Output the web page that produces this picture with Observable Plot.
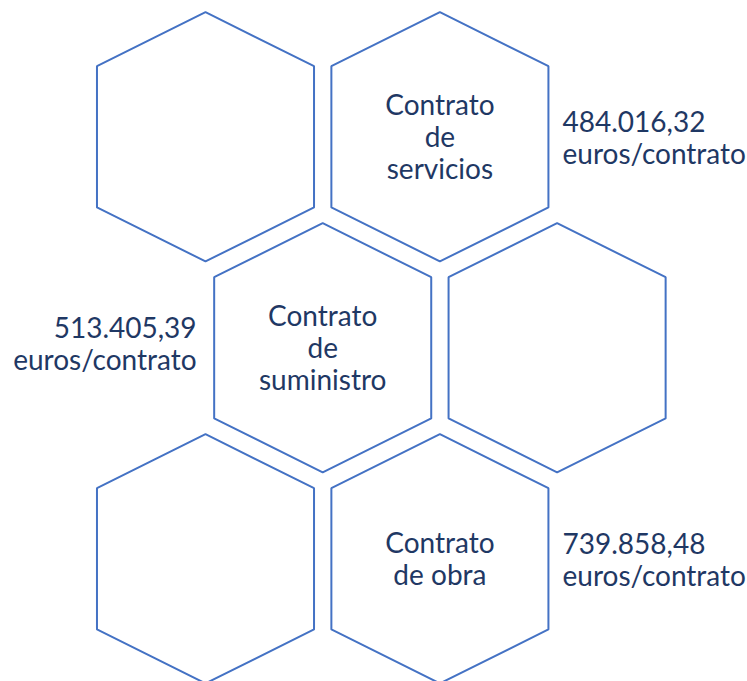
<!DOCTYPE html>
<html>
<head>
<meta charset="utf-8">
<script src="https://cdn.jsdelivr.net/npm/d3@7"></script>
<script src="https://cdn.jsdelivr.net/npm/@observablehq/plot@0.6"></script>
<style>
  html, body { margin: 0; padding: 0; background: #ffffff; }
  #chart svg { display: block; }
</style>
</head>
<body>
<div id="chart"></div>
<script>
// Honeycomb grid: column in half-steps, row index
const hexCols = [0, 2, 1, 3, 0, 2];
const hexRows = [0, 0, 1, 1, 2, 2];

// Contract types (placed in hexagons) and their average amounts
const contractTypes = ["Contrato\nde\nservicios", "Contrato\nde\nsuministro", "Contrato\nde obra"];
const typeCols = [2, 1, 2];
const typeRows = [0, 1, 2];
const typeValues = ["484.016,32", "513.405,39", "739.858,48"];
const valueUnit = "euros/contrato";
const valueSide = ["right", "left", "right"];

// hexagon outline in grid units (pointy top)
const hw = 0.926, hTop = 0.5905, hShoulder = 0.3346;
const outline = [[0, -hTop], [hw, -hShoulder], [hw, hShoulder], [0, hTop], [-hw, hShoulder], [-hw, -hShoulder], [0, -hTop]];

const hexPts = [];
hexCols.forEach((c, i) => {
  outline.forEach(([dx, dy]) => hexPts.push({id: i, x: c + dx, y: hexRows[i] + dy}));
});

const names = contractTypes.map((t, i) => ({label: t, x: typeCols[i], y: typeRows[i]}));
const values = typeValues.map((v, i) => ({
  label: v + "\n" + valueUnit,
  x: typeCols[i] + (valueSide[i] === "right" ? hw + 0.12 : -hw - 0.15),
  y: typeRows[i] + (valueSide[i] === "right" ? 0.005 : -0.018),
  anchor: valueSide[i] === "right" ? "start" : "end"
}));

const ink = "#1f3864";
const font = "Lato, 'Open Sans', sans-serif";

const chart = Plot.plot({
  width: 747,
  height: 681,
  margin: 0,
  x: {domain: [0, 3], range: [205, 556.6], axis: null},
  y: {domain: [0, 2], range: [136.3, 558.3], axis: null},
  style: {background: "#ffffff", fontFamily: font},
  marks: [
    Plot.line(hexPts, {x: "x", y: "y", z: "id", stroke: "#4472c4", strokeWidth: 2, curve: "linear", strokeLinejoin: "miter"}),
    Plot.text(names, {x: "x", y: "y", text: "label", fontSize: 28, lineHeight: 1.15, fill: ink, textAnchor: "middle", fontFamily: font}),
    Plot.text(values.filter(d => d.anchor === "start"), {x: "x", y: "y", text: "label", fontSize: 28, lineHeight: 1.15, fill: ink, textAnchor: "start", fontFamily: font}),
    Plot.text(values.filter(d => d.anchor === "end"), {x: "x", y: "y", text: "label", fontSize: 28, lineHeight: 1.15, fill: ink, textAnchor: "end", fontFamily: font})
  ]
});
document.getElementById("chart").appendChild(chart);
</script>
</body>
</html>
